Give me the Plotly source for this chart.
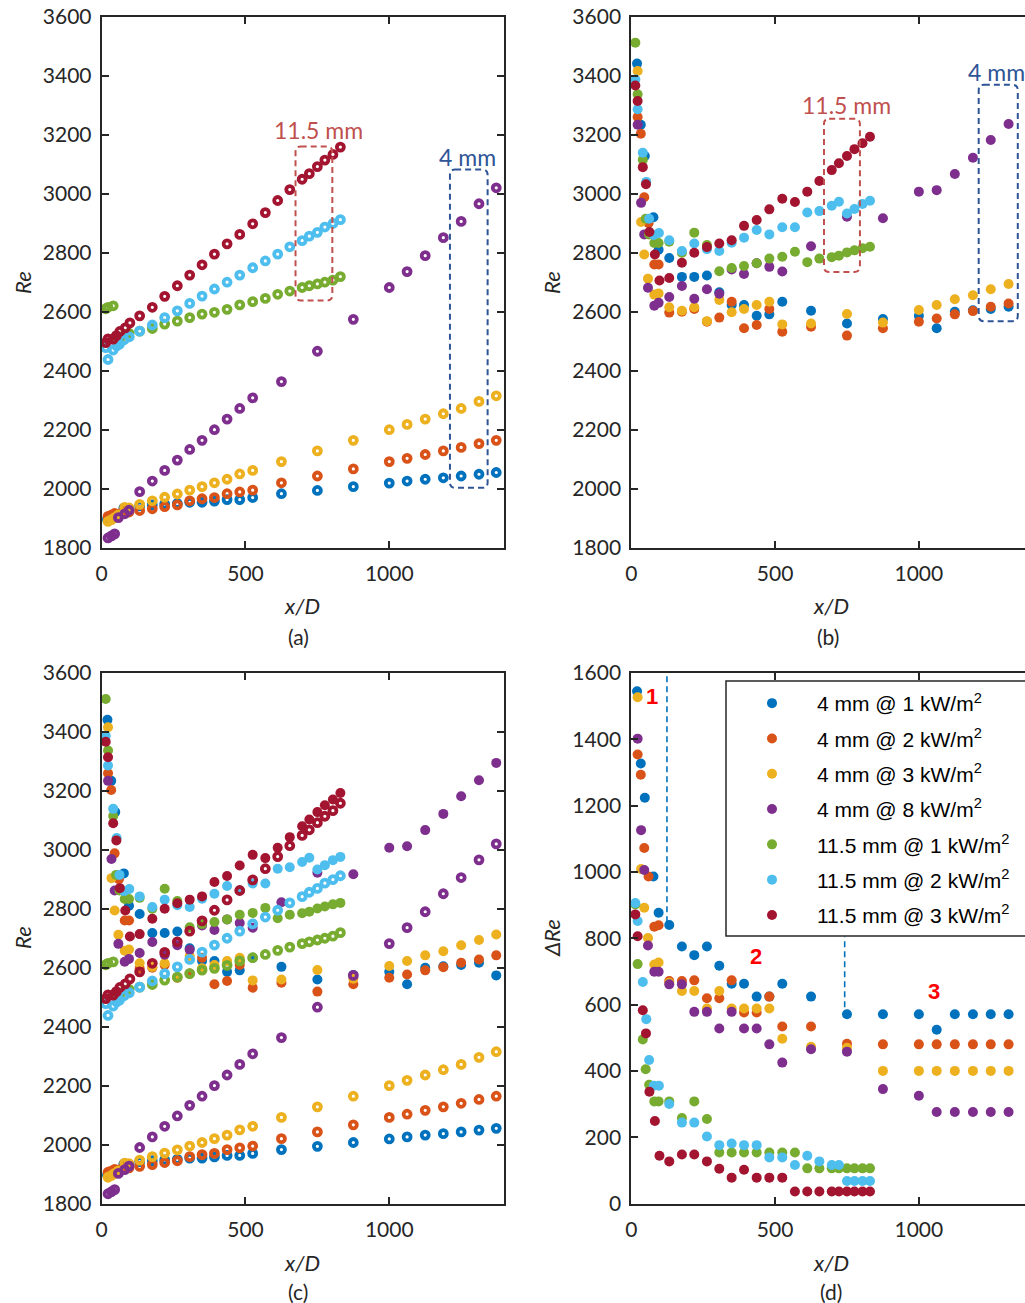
import plotly.graph_objects as go

# ---------------------------------------------------------------- data
# Reynolds number along the channel (x/D) for two tube diameters and
# several heat fluxes: "open" = first estimate, "filled" = second estimate,
# dre = difference between the two.

LABELS = [
    "4 mm @ 1 kW/m<sup>2</sup>",
    "4 mm @ 2 kW/m<sup>2</sup>",
    "4 mm @ 3 kW/m<sup>2</sup>",
    "4 mm @ 8 kW/m<sup>2</sup>",
    "11.5 mm @ 1 kW/m<sup>2</sup>",
    "11.5 mm @ 2 kW/m<sup>2</sup>",
    "11.5 mm @ 3 kW/m<sup>2</sup>",
]
COLORS = ["#0072BD", "#D95319", "#EDB120", "#7E2F8E", "#77AC30", "#4DBEEE", "#A2142F"]

# 4 mm @ 1 kW/m2
x_4_1 = [20, 33, 47, 77, 95, 132, 176, 219, 263, 306, 349, 392, 436, 480, 525,
         625, 750, 875, 1000, 1062, 1125, 1188, 1250, 1312, 1372]
re_open_4_1 = [1896, 1905, 1910, 1934, 1933, 1942, 1945, 1948, 1950, 1954, 1954, 1958, 1963, 1963, 1970,
               1983, 1994, 2007, 2019, 2026, 2032, 2037, 2043, 2049, 2055]
re_fill_4_1 = [3441, 3234, 3128, 2920, 2810, 2782, 2718, 2718, 2723, 2666, 2623, 2623, 2586, 2591, 2634,
               2603, 2560, 2575, 2586, 2544, 2600, 2605, 2609, 2617, 2574]
dre_4_1 = [1545, 1327, 1224, 986, 877, 840, 775, 749, 775, 717, 663, 663, 624, 624, 663,
           624, 571, 571, 571, 524, 571, 571, 571, 571, 524]

# 4 mm @ 2 kW/m2
x_4_2 = [22, 33, 45, 60, 80, 95, 132, 176, 219, 263, 306, 349, 392, 436, 480, 525,
         625, 750, 875, 1000, 1062, 1125, 1188, 1250, 1312, 1372]
re_open_4_2 = [1906, 1910, 1916, 1914, 1925, 1921, 1926, 1932, 1939, 1945, 1959, 1966, 1970, 1983, 1989, 1995,
               2020, 2043, 2067, 2092, 2103, 2116, 2128, 2140, 2153, 2164]
re_fill_4_2 = [3260, 3203, 2988, 2900, 2760, 2760, 2597, 2600, 2609, 2566, 2580, 2634, 2544, 2555, 2609, 2532,
               2549, 2519, 2544, 2566, 2577, 2591, 2602, 2617, 2628, 2642]
dre_4_2 = [1354, 1293, 1072, 986, 835, 839, 671, 671, 673, 619, 619, 673, 576, 576, 624, 534,
           534, 482, 480, 480, 480, 480, 480, 480, 480, 480]

# 4 mm @ 3 kW/m2
x_4_3 = [22, 34, 45, 58, 80, 95, 132, 176, 219, 263, 306, 349, 392, 436, 480, 525,
         625, 750, 875, 1000, 1062, 1125, 1188, 1250, 1312, 1372]
re_open_4_3 = [1889, 1895, 1902, 1911, 1937, 1935, 1947, 1959, 1971, 1982, 1995, 2007, 2020, 2032, 2050, 2062,
               2092, 2128, 2164, 2200, 2218, 2236, 2254, 2272, 2296, 2315]
re_fill_4_3 = [3416, 2904, 2794, 2712, 2658, 2662, 2615, 2603, 2615, 2568, 2640, 2598, 2609, 2623, 2634, 2557,
               2560, 2592, 2563, 2606, 2623, 2642, 2656, 2676, 2694, 2713]
dre_4_3 = [1527, 1009, 892, 801, 721, 727, 666, 641, 641, 588, 641, 588, 588, 588, 588, 497,
           473, 470, 400, 400, 400, 400, 400, 400, 400, 400]

# 4 mm @ 8 kW/m2
x_4_8 = [22, 34, 45, 58, 80, 95, 132, 176, 219, 263, 306, 349, 392, 436, 480, 525,
         625, 750, 875, 1000, 1062, 1125, 1188, 1250, 1312, 1372]
re_open_4_8 = [1833, 1840, 1847, 1902, 1915, 1927, 1990, 2026, 2062, 2097, 2133, 2164, 2200, 2236, 2272, 2308,
               2363, 2466, 2574, 2682, 2736, 2790, 2851, 2906, 2966, 3020]
re_fill_4_8 = [3234, 2969, 2862, 2681, 2620, 2630, 2650, 2687, 2644, 2676, 2661, 2743, 2728, 2764, 2752, 2736,
               2822, 2922, 2917, 3007, 3012, 3067, 3122, 3182, 3236, 3295]
dre_4_8 = [1402, 1126, 1006, 778, 699, 699, 661, 661, 578, 578, 528, 578, 528, 528, 480, 425,
           465, 458, 345, 325, 276, 276, 276, 276, 276, 276]

# 11.5 mm @ 1 kW/m2
x_11_1 = [14, 22, 40, 50, 62, 80, 95, 132, 176, 219, 263, 306, 349, 392, 436, 480, 525,
          569, 612, 654, 697, 722, 750, 776, 804, 830]
re_open_11_1 = [2610, 2615, 2620, 2515, 2505, 2522, 2527, 2534, 2543, 2558, 2568, 2580, 2592, 2598, 2608, 2623, 2634,
                2645, 2659, 2670, 2682, 2688, 2694, 2700, 2707, 2719]
re_fill_11_1 = [3512, 3337, 3115, 2915, 2862, 2833, 2833, 2837, 2800, 2868, 2826, 2737, 2748, 2755, 2764, 2780, 2786,
                2803, 2768, 2780, 2785, 2790, 2801, 2808, 2815, 2820]
dre_11_1 = [902, 722, 495, 405, 358, 308, 308, 308, 258, 308, 255, 154, 154, 154, 154, 154, 154,
            154, 106, 106, 106, 106, 106, 106, 106, 106]

# 11.5 mm @ 2 kW/m2
x_11_2 = [14, 22, 40, 52, 62, 78, 96, 132, 176, 219, 263, 306, 349, 392, 436, 480, 525,
          569, 612, 654, 697, 722, 750, 776, 804, 830]
re_open_11_2 = [2478, 2438, 2470, 2484, 2490, 2505, 2515, 2534, 2555, 2580, 2603, 2628, 2653, 2677, 2700, 2724, 2749,
                2772, 2795, 2820, 2841, 2856, 2869, 2887, 2899, 2912]
re_fill_11_2 = [3387, 3286, 3139, 3040, 2915, 2860, 2867, 2842, 2806, 2831, 2812, 2806, 2834, 2851, 2877, 2862, 2886,
                2886, 2936, 2941, 2959, 2973, 2933, 2948, 2965, 2976]
dre_11_2 = [906, 852, 668, 556, 433, 355, 355, 300, 244, 244, 202, 176, 181, 176, 176, 139, 139,
            116, 144, 127, 116, 116, 68, 68, 68, 68]

# 11.5 mm @ 3 kW/m2
x_11_3 = [14, 22, 40, 51, 63, 82, 98, 132, 176, 219, 263, 306, 349, 392, 436, 480, 525,
          569, 612, 654, 697, 722, 750, 776, 804, 830]
re_open_11_3 = [2495, 2508, 2507, 2519, 2533, 2545, 2562, 2586, 2615, 2652, 2688, 2724, 2759, 2795, 2830, 2862, 2898,
                2936, 2977, 3014, 3049, 3068, 3092, 3114, 3133, 3158]
re_fill_11_3 = [3367, 3314, 3090, 3032, 2870, 2794, 2706, 2714, 2766, 2800, 2819, 2831, 2842, 2891, 2911, 2947, 2983,
                2972, 3007, 3043, 3080, 3103, 3128, 3151, 3171, 3193]
dre_11_3 = [872, 806, 583, 513, 337, 249, 144, 127, 148, 148, 127, 105, 78, 102, 78, 78, 78,
            36, 36, 36, 36, 36, 36, 36, 36, 36]

X_ALL = [x_4_1, x_4_2, x_4_3, x_4_8, x_11_1, x_11_2, x_11_3]
OPEN_ALL = [re_open_4_1, re_open_4_2, re_open_4_3, re_open_4_8, re_open_11_1, re_open_11_2, re_open_11_3]
FILL_ALL = [re_fill_4_1, re_fill_4_2, re_fill_4_3, re_fill_4_8, re_fill_11_1, re_fill_11_2, re_fill_11_3]
DRE_ALL = [dre_4_1, dre_4_2, dre_4_3, dre_4_8, dre_11_1, dre_11_2, dre_11_3]

RE_TICKS = [1800, 2000, 2200, 2400, 2600, 2800, 3000, 3200, 3400, 3600]
DRE_TICKS = [0, 200, 400, 600, 800, 1000, 1200, 1400, 1600]
XD_TICKS = [0, 500, 1000]

# ---------------------------------------------------------------- figure
W, H = 1025, 1303
AX = "#262626"
TICK_FONT = dict(family="Lato, Open Sans, sans-serif", size=21, color=AX)
TITLE_FONT = dict(family="Lato, Open Sans, sans-serif", size=22, color=AX)


def px(x):
    return x / W


def py(y):
    return 1 - y / H


fig = go.Figure()


def open_trace(x, y, color, xa, ya):
    return go.Scatter(x=x, y=y, mode="markers", xaxis=xa, yaxis=ya, showlegend=False,
                      cliponaxis=False, hoverinfo="skip",
                      marker=dict(symbol="circle-open", size=7, color=color,
                                  line=dict(width=3.8, color=color)))


def filled_trace(x, y, color, xa, ya, name=None, legend=False):
    return go.Scatter(x=x, y=y, mode="markers", xaxis=xa, yaxis=ya, showlegend=legend,
                      name=name, legendgroup=name, cliponaxis=False, hoverinfo="skip",
                      marker=dict(symbol="circle", size=10, color=color, line=dict(width=0)))


# (a) open markers
for x, y, c in zip(X_ALL, OPEN_ALL, COLORS):
    fig.add_trace(open_trace(x, y, c, "x", "y"))
# (b) filled markers
for x, y, c in zip(X_ALL, FILL_ALL, COLORS):
    fig.add_trace(filled_trace(x, y, c, "x2", "y2"))
# (c) both together
for x, y, c in zip(X_ALL, FILL_ALL, COLORS):
    fig.add_trace(filled_trace(x, y, c, "x3", "y3"))
for x, y, c in zip(X_ALL, OPEN_ALL, COLORS):
    fig.add_trace(open_trace(x, y, c, "x3", "y3"))
# (d) difference, carries the legend
for x, y, c, lab in zip(X_ALL, DRE_ALL, COLORS, LABELS):
    fig.add_trace(filled_trace(x, y, c, "x4", "y4", name=lab, legend=True))

# axis geometry (pixel edges of each panel)
LEFT_A, RIGHT_A = 101.7, 504.3
LEFT_B = 631.3
TOP_1, BOT_1 = 16.7, 547.7
TOP_2, BOT_2 = 673.0, 1203.5
XSCALE = (RIGHT_A - LEFT_A) / 1400.0

common = dict(showline=True, linecolor=AX, linewidth=2, ticks="inside", ticklen=7,
              tickwidth=1.6, tickcolor=AX, showgrid=False, zeroline=False,
              tickfont=TICK_FONT, automargin=False)

xa_left = dict(common, domain=[px(LEFT_A), px(RIGHT_A)], range=[0, 1400],
               tickvals=XD_TICKS, mirror="ticks", ticklabelstandoff=6)
xa_right = dict(common, domain=[px(LEFT_B), 1.0], range=[0, (W - LEFT_B) / XSCALE],
                tickvals=XD_TICKS, mirror="ticks", ticklabelstandoff=6)
ya_re_top = dict(common, domain=[py(BOT_1), py(TOP_1)], range=[1800, 3600], tickvals=RE_TICKS,
                 ticklabelstandoff=4)
ya_re_bot = dict(common, domain=[py(BOT_2), py(TOP_2)], range=[1800, 3600], tickvals=RE_TICKS,
                 ticklabelstandoff=4)
ya_dre = dict(common, domain=[py(BOT_2), py(TOP_2)], range=[0, 1600], tickvals=DRE_TICKS,
              ticklabelstandoff=4)

fig.update_layout(
    width=W, height=H, margin=dict(l=0, r=0, t=0, b=0, pad=0, autoexpand=False),
    paper_bgcolor="white", plot_bgcolor="white",
    xaxis=dict(xa_left, anchor="y"),
    yaxis=dict(ya_re_top, anchor="x", mirror="ticks"),
    xaxis2=dict(xa_right, anchor="y2"),
    yaxis2=dict(ya_re_top, anchor="x2", mirror=False),
    xaxis3=dict(xa_left, anchor="y3"),
    yaxis3=dict(ya_re_bot, anchor="x3", mirror="ticks"),
    xaxis4=dict(xa_right, anchor="y4"),
    yaxis4=dict(ya_dre, anchor="x4", mirror=False),
    legend=dict(x=px(727), y=py(683), xanchor="left", yanchor="top",
                bgcolor="rgba(0,0,0,0)", borderwidth=0,
                font=dict(family="Liberation Sans, Arial, sans-serif", size=21, color="black"),
                itemwidth=80, tracegroupgap=5, traceorder="grouped"),
    font=dict(family="Lato, sans-serif"),
)

# axis titles and panel letters
ann = []
for (xc, yc, ylab) in [(22, 283, "<i>Re</i>"), (551, 283, "<i>Re</i>"),
                       (22, 938, "<i>Re</i>"), (551, 938, "<i>\u0394Re</i>")]:
    ann.append(dict(x=px(xc), y=py(yc), xref="paper", yref="paper", text=ylab,
                    textangle=-90, showarrow=False, font=TITLE_FONT,
                    xanchor="center", yanchor="middle"))
for (xc, yc) in [(302, 605), (831, 605), (302, 1262), (831, 1262)]:
    ann.append(dict(x=px(xc), y=py(yc), xref="paper", yref="paper", text="<i>x/D</i>",
                    showarrow=False, font=TITLE_FONT, xanchor="center", yanchor="middle"))
for (xc, yc, letter) in [(298, 636, "(a)"), (828, 636, "(b)"), (298, 1291, "(c)"), (831, 1291, "(d)")]:
    ann.append(dict(x=px(xc), y=py(yc), xref="paper", yref="paper", text=letter,
                    showarrow=False, font=dict(TICK_FONT, size=21), xanchor="center", yanchor="middle"))

RED_BOX = "#C0504D"
BLUE_BOX = "#2F5597"
LABEL_FONT = dict(family="Lato, Open Sans, sans-serif", size=23)

# diameter call-outs in (a) and (b)
ann += [
    dict(x=755, y=3217, xref="x", yref="y", text="11.5 mm", showarrow=False,
         font=dict(LABEL_FONT, color=RED_BOX)),
    dict(x=1273, y=3124, xref="x", yref="y", text="4 mm", showarrow=False,
         font=dict(LABEL_FONT, color=BLUE_BOX)),
    dict(x=750, y=3302, xref="x2", yref="y2", text="11.5 mm", showarrow=False,
         font=dict(LABEL_FONT, color=RED_BOX)),
    dict(x=1270, y=3413, xref="x2", yref="y2", text="4 mm", showarrow=False,
         font=dict(LABEL_FONT, color=BLUE_BOX)),
]

# region numbers in (d)
NUM_FONT = dict(family="Liberation Sans, Arial, sans-serif", size=22, color="#FF0000")
for xv, yv, t in [(72, 1530, "1"), (432, 744, "2"), (1053, 638, "3")]:
    ann.append(dict(x=xv, y=yv, xref="x4", yref="y4", text="<b>%s</b>" % t,
                    showarrow=False, font=NUM_FONT))
fig.update_layout(annotations=ann)


def rounded_box(x0, x1, y0, y1, rx=18, ry=18):
    return (f"M {x0 + rx},{y1} L {x1 - rx},{y1} Q {x1},{y1} {x1},{y1 - ry} "
            f"L {x1},{y0 + ry} Q {x1},{y0} {x1 - rx},{y0} L {x0 + rx},{y0} "
            f"Q {x0},{y0} {x0},{y0 + ry} L {x0},{y1 - ry} Q {x0},{y1} {x0 + rx},{y1} Z")


shapes = []
for xr, yr, box, col in [
    ("x", "y", (674, 802, 2638, 3160), RED_BOX),
    ("x", "y", (1211, 1342, 2003, 3082), BLUE_BOX),
    ("x2", "y2", (670, 795, 2735, 3254), RED_BOX),
    ("x2", "y2", (1208, 1344, 2568, 3369), BLUE_BOX),
]:
    shapes.append(dict(type="path", xref=xr, yref=yr, path=rounded_box(*box),
                       line=dict(color=col, width=2, dash="6px,4px")))

# boundaries between regions in (d)
for xv, y0, y1 in [(124, 848, 1600), (742, 592, 805)]:
    shapes.append(dict(type="line", xref="x4", yref="y4", x0=xv, x1=xv, y0=y0, y1=y1,
                       line=dict(color="#0072BD", width=1.6, dash="6px,4px")))

# legend frame (runs past the right edge of the page)
shapes.append(dict(type="rect", xref="paper", yref="paper",
                   x0=px(726), x1=px(1040), y0=py(936), y1=py(681),
                   fillcolor="white", line=dict(color=AX, width=1.5), layer="above"))
fig.update_layout(shapes=shapes)

fig.write_html("out.html")
